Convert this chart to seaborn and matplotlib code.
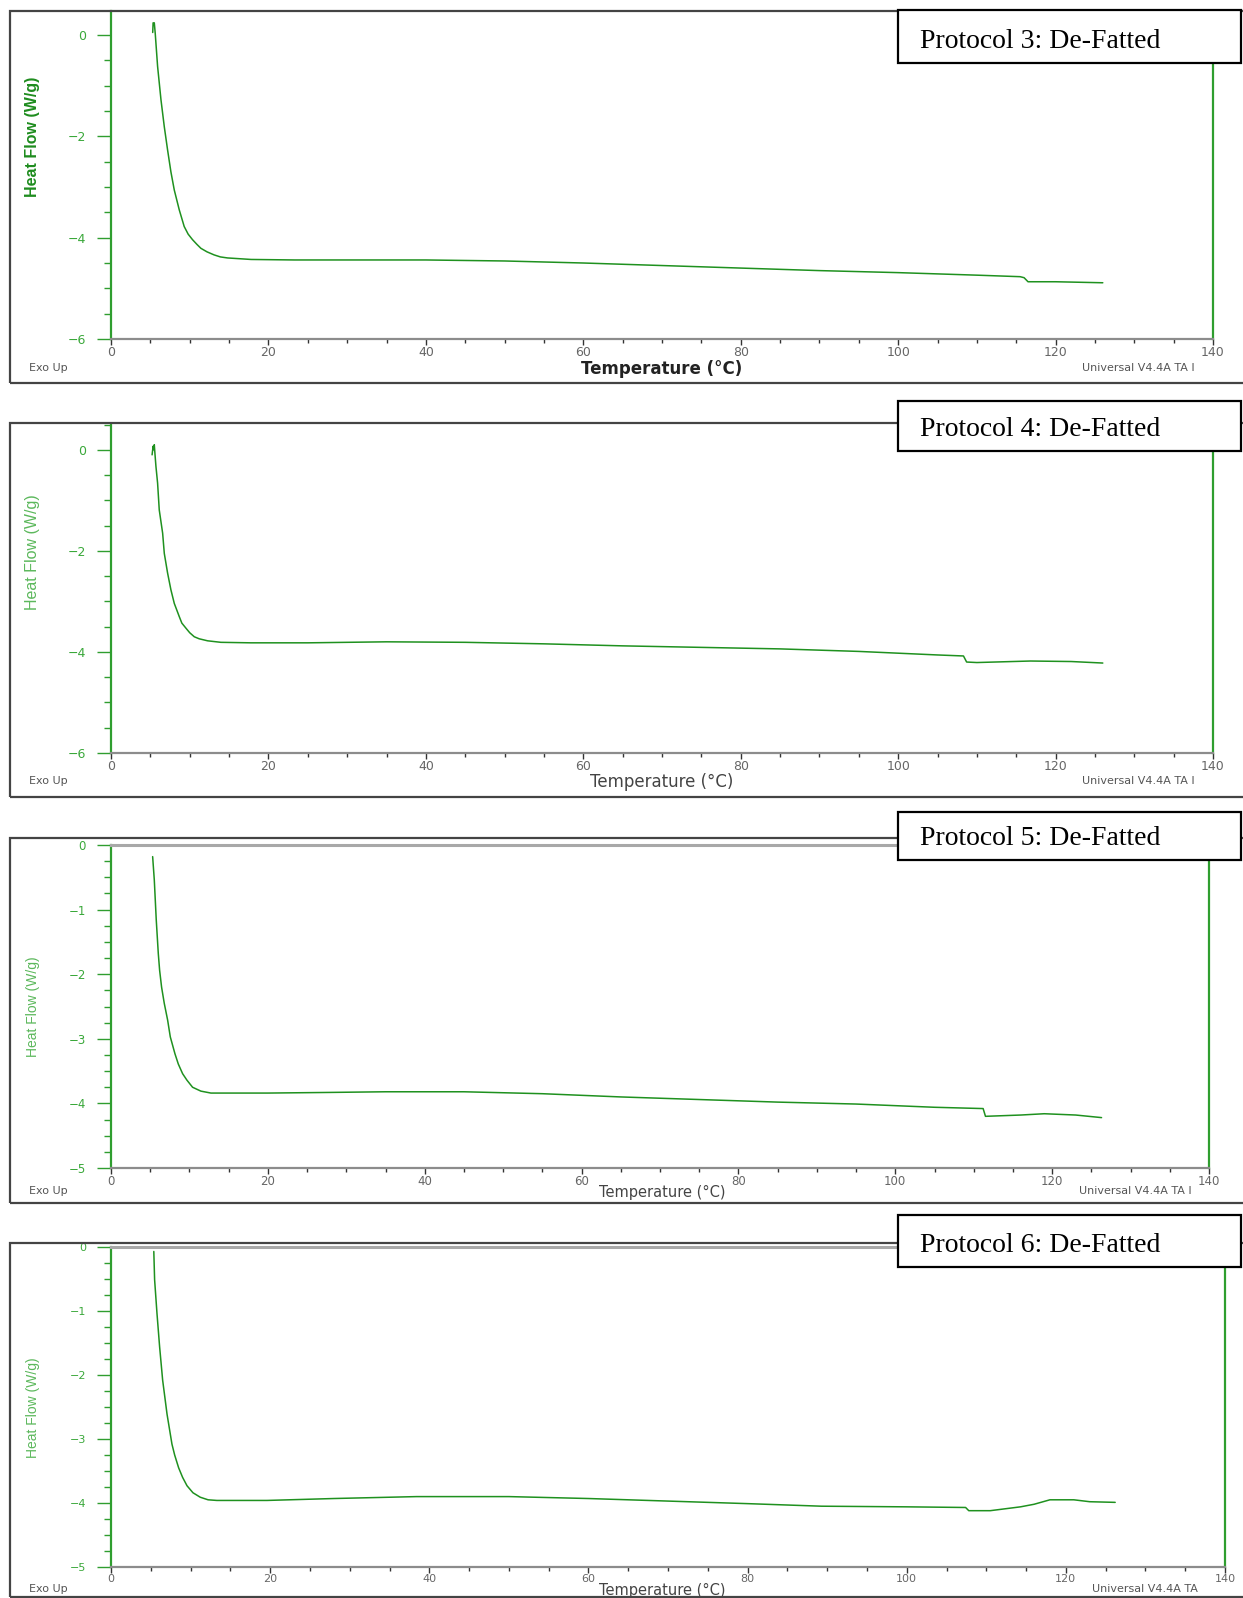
import numpy as np
import pandas as pd
import matplotlib
matplotlib.use('Agg')
import matplotlib.pyplot as plt
import seaborn as sns
from matplotlib.patches import Rectangle
from matplotlib.ticker import MultipleLocator

W, H = 1243, 1598

# DSC traces (temperature in deg C, heat flow in W/g)
temp_p3 = [5.3, 5.35, 5.5, 5.62, 5.92, 6.35, 6.77, 7.19, 7.61, 8.04, 8.67, 9.3, 9.8, 10.36,
           10.9, 11.42, 12.2, 13.1, 13.9, 14.8, 17.8, 23.3, 30, 40, 50, 60, 70, 80, 90, 100, 110,
           115.5, 116.0, 116.5, 120, 126]
flow_p3 = [0.05, 0.24, 0.24, 0.03, -0.62, -1.28, -1.81, -2.27, -2.70, -3.06, -3.45, -3.78, -3.93, -4.04,
           -4.13, -4.21, -4.28, -4.34, -4.38, -4.40, -4.43, -4.44, -4.44, -4.44, -4.46, -4.50, -4.55, -4.60,
           -4.65, -4.69, -4.74, -4.77, -4.79, -4.87, -4.87, -4.89]

temp_p4 = [5.22, 5.35, 5.43, 5.5, 5.58, 5.71, 5.92, 6.13, 6.56, 6.77, 7.19, 7.61, 8.04, 8.67,
           9.0, 9.52, 10.0, 10.58, 11.2, 12.27, 13.96, 17.77, 25, 35, 45, 55, 65, 75, 85, 95, 105,
           108.3, 108.7, 110, 116.8, 122, 126]
flow_p4 = [-0.10, 0.07, 0.0, 0.10, -0.07, -0.33, -0.66, -1.19, -1.65, -2.05, -2.44, -2.77, -3.04, -3.30,
           -3.43, -3.53, -3.62, -3.70, -3.74, -3.78, -3.81, -3.82, -3.82, -3.80, -3.81, -3.84, -3.88,
           -3.91, -3.94, -3.99, -4.06, -4.08, -4.20, -4.21, -4.18, -4.19, -4.22]

temp_p5 = [5.31, 5.52, 5.77, 6.03, 6.2, 6.45, 6.79, 7.22, 7.56, 8.15, 8.58, 9.13, 9.68, 10.4,
           11.46, 12.74, 20, 28, 35, 45, 55, 65, 75, 85, 95, 105, 111.2, 111.5, 116, 119, 123, 126.3]
flow_p5 = [-0.18, -0.54, -1.16, -1.68, -1.94, -2.20, -2.45, -2.71, -2.97, -3.23, -3.39, -3.54, -3.64, -3.75,
           -3.81, -3.84, -3.84, -3.83, -3.82, -3.82, -3.85, -3.90, -3.94, -3.98, -4.01, -4.06, -4.08,
           -4.20, -4.18, -4.16, -4.18, -4.22]

temp_p6 = [5.38, 5.48, 5.78, 6.11, 6.49, 7.04, 7.66, 8.0, 8.5, 9.0, 9.55, 10.3, 11.22, 12.2, 13.3,
           19.6, 28, 38.4, 50, 60, 70, 80, 89.3, 100, 107.4, 107.8, 110.5, 114.3, 116, 118, 121, 123, 126.2]
flow_p6 = [-0.07, -0.51, -1.04, -1.56, -2.08, -2.61, -3.08, -3.25, -3.45, -3.60, -3.73, -3.84, -3.91,
           -3.95, -3.96, -3.96, -3.93, -3.90, -3.90, -3.93, -3.97, -4.01, -4.05, -4.06, -4.07, -4.12,
           -4.12, -4.06, -4.02, -3.95, -3.95, -3.98, -3.99]

labels = ['Protocol 3: De-Fatted', 'Protocol 4: De-Fatted',
          'Protocol 5: De-Fatted', 'Protocol 6: De-Fatted']
footers = ['Universal V4.4A TA I', 'Universal V4.4A TA I',
           'Universal V4.4A TA I', 'Universal V4.4A TA']
temps = [temp_p3, temp_p4, temp_p5, temp_p6]
flows = [flow_p3, flow_p4, flow_p5, flow_p6]

sns.set_theme(style='white')
plt.rcParams['font.family'] = ['DejaVu Sans']

# layout in pixels: panel box (top, bottom), axes (left, right, top, bottom), label box (top, bottom)
panels = [
    dict(box=(10.7, 383), ax=(111, 1213, 10.7, 339), ylim=(-6, 0.48), major=2, minor=0.5,
         tag=(10, 63), ylab_y=137, text_y=369, univ_x=1082, bold=True, ylab_size=11.5,
         top=False, tick=9, temp=12),
    dict(box=(423, 797), ax=(111, 1213, 424, 753), ylim=(-6, 0.51), major=2, minor=0.5,
         tag=(401, 451), ylab_y=552, text_y=782, univ_x=1082, bold=False, ylab_size=11.5,
         top=False, tick=9, temp=12),
    dict(box=(838, 1203), ax=(111, 1209, 845, 1168), ylim=(-5, 0), major=1, minor=0.25,
         tag=(812, 860), ylab_y=1007, text_y=1192, univ_x=1079, bold=False, ylab_size=10,
         top=True, tick=8.5, temp=10.5),
    dict(box=(1243, 1597), ax=(111, 1225, 1247, 1567), ylim=(-5, 0), major=1, minor=0.25,
         tag=(1215, 1267), ylab_y=1408, text_y=1590, univ_x=1092, bold=False, ylab_size=10,
         top=True, tick=8, temp=10.5),
]

green = '#2f9e2f'
fig = plt.figure(figsize=(W / 100, H / 100), dpi=100)


def fx(x):
    return x / W


def fy(y):
    return 1 - y / H


for p, lab, foot, t, f in zip(panels, labels, footers, temps, flows):
    # outer border of the panel
    b_top, b_bot = p['box']
    fig.patches.append(Rectangle((fx(9.5), fy(b_bot)), fx(1240), (b_bot - b_top) / H,
                                 transform=fig.transFigure, fill=False,
                                 edgecolor='#444444', lw=1.6, zorder=0.5))
    l, r, a_top, a_bot = p['ax']
    ax = fig.add_axes([fx(l), fy(a_bot), (r - l) / W, (a_bot - a_top) / H])
    ax.set_facecolor('none')
    df = pd.DataFrame({'T': t, 'HF': f})
    sns.lineplot(data=df, x='T', y='HF', sort=False, estimator=None, ax=ax,
                 color='#1f911f', lw=1.1)
    ax.set_xlim(0, 140)
    ax.set_ylim(*p['ylim'])
    ax.set_xlabel('')
    ax.set_ylabel('')
    ax.xaxis.set_major_locator(MultipleLocator(20))
    ax.xaxis.set_minor_locator(MultipleLocator(5))
    ax.yaxis.set_major_locator(MultipleLocator(p['major']))
    ax.yaxis.set_minor_locator(MultipleLocator(p['minor']))
    ax.tick_params(axis='y', which='major', direction='out', length=10, width=1,
                   color=green, labelcolor='#3aa83a', labelsize=p['tick'], pad=8, left=True)
    ax.tick_params(axis='y', which='minor', direction='out', length=5, width=1,
                   color=green, left=True)
    ax.tick_params(axis='x', which='major', direction='out', length=4, width=1,
                   color='#333333', labelcolor='#666666', labelsize=p['tick'], pad=1, bottom=True)
    ax.tick_params(axis='x', which='minor', direction='out', length=3, width=1,
                   color='#333333', bottom=True)
    for side in ['left', 'right']:
        ax.spines[side].set_color(green)
        ax.spines[side].set_linewidth(1.6)
    ax.spines['bottom'].set_color('#8c8c8c')
    ax.spines['bottom'].set_linewidth(1.6)
    if p['top']:
        ax.spines['top'].set_color('#a8a8a8')
        ax.spines['top'].set_linewidth(2.2)
    else:
        ax.spines['top'].set_visible(False)

    weight = 'bold' if p['bold'] else 'normal'
    fig.text(fx(33), fy(p['ylab_y']), 'Heat Flow (W/g)', rotation=90,
             ha='center', va='center', fontsize=p['ylab_size'], fontweight=weight,
             color='#1e8c1e' if p['bold'] else '#5cb85c',
             family=['Liberation Sans Narrow', 'Liberation Sans', 'DejaVu Sans'])
    fig.text(fx(662), fy(p['text_y']), 'Temperature (°C)', ha='center', va='center',
             fontsize=p['temp'], fontweight=weight, color='#222222' if p['bold'] else '#444444')
    fig.text(fx(29), fy(p['text_y'] - 1), 'Exo Up', ha='left', va='center',
             fontsize=8, color='#555555')
    fig.text(fx(p['univ_x']), fy(p['text_y'] - 1), foot,
             ha='left', va='center', fontsize=8, color='#555555')

    # protocol label box
    t_top, t_bot = p['tag']
    fig.patches.append(Rectangle((fx(898), fy(t_bot)), (1241 - 898) / W, (t_bot - t_top) / H,
                                 transform=fig.transFigure, facecolor='white',
                                 edgecolor='black', lw=1.6, zorder=2))
    fig.text(fx(920), fy(t_bot - 15), lab, ha='left', va='baseline', fontsize=20,
             family=['Liberation Serif', 'DejaVu Serif'], color='black', zorder=3)

fig.savefig('out.png', dpi=100, facecolor='white')
